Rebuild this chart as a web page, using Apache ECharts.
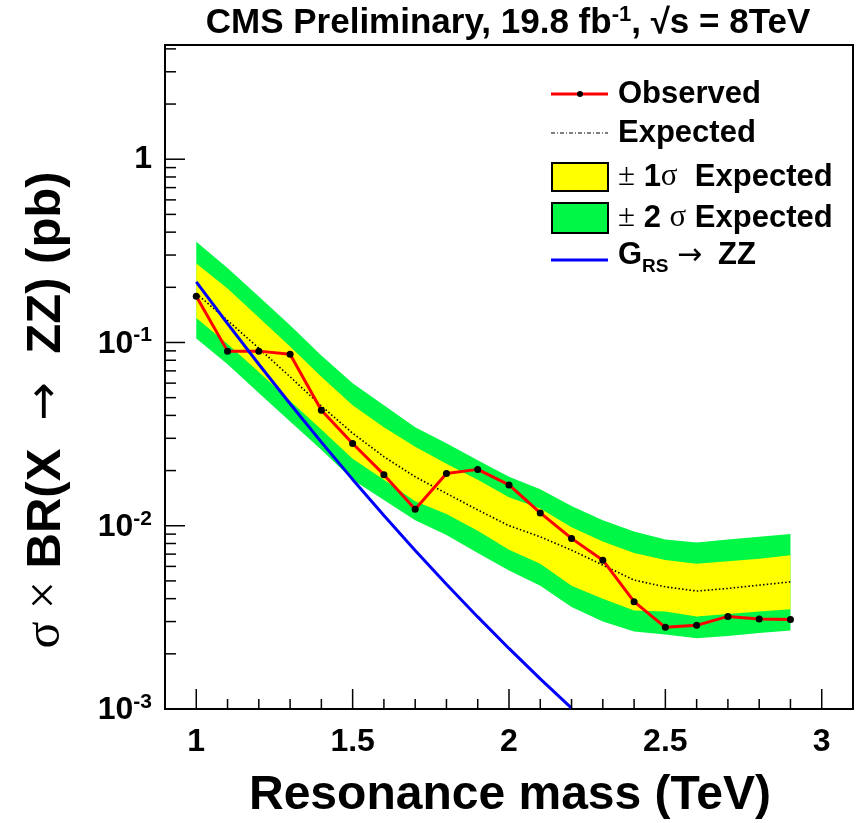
<!DOCTYPE html>
<html>
<head>
<meta charset="utf-8">
<script src="https://cdn.jsdelivr.net/npm/echarts@6/dist/echarts.min.js"></script>
<style>
html,body{margin:0;padding:0;background:#fff;}
#chart{width:858px;height:823px;}
</style>
</head>
<body>
<div id="chart"></div>
<script>
// ---- data ----
const mass       = [1.0, 1.1, 1.2, 1.3, 1.4, 1.5, 1.6, 1.7, 1.8, 1.9, 2.0, 2.1, 2.2, 2.3, 2.4, 2.5, 2.6, 2.7, 2.8, 2.9];
const observed   = [0.179, 0.0897, 0.0897, 0.0862, 0.0427, 0.0281, 0.0190, 0.0123, 0.0193, 0.0203, 0.0167, 0.01175, 0.00853, 0.00649, 0.00385, 0.00279, 0.00286, 0.00320, 0.00310, 0.00308];
const expected   = [0.185, 0.132, 0.093, 0.065, 0.045, 0.032, 0.0238, 0.0185, 0.0150, 0.0122, 0.0100, 0.0087, 0.00736, 0.0061, 0.00505, 0.00464, 0.00440, 0.00455, 0.00474, 0.00494];
const sigma1Up   = [0.270, 0.197, 0.137, 0.095, 0.065, 0.0455, 0.0345, 0.0270, 0.0218, 0.0178, 0.0143, 0.0124, 0.0098, 0.0082, 0.0071, 0.0065, 0.0062, 0.0064, 0.0066, 0.0069];
const sigma1Down = [0.136, 0.098, 0.069, 0.048, 0.0335, 0.0232, 0.0178, 0.0136, 0.0116, 0.0094, 0.0074, 0.0062, 0.0047, 0.0040, 0.00345, 0.0034, 0.0032, 0.0033, 0.0034, 0.0035];
const sigma2Up   = [0.354, 0.255, 0.178, 0.124, 0.085, 0.060, 0.0455, 0.0345, 0.0282, 0.0228, 0.0185, 0.0158, 0.0128, 0.0107, 0.0093, 0.0084, 0.0081, 0.0084, 0.0087, 0.0090];
const sigma2Down = [0.105, 0.076, 0.053, 0.037, 0.026, 0.0178, 0.0138, 0.0107, 0.0089, 0.0071, 0.0057, 0.0047, 0.0036, 0.0030, 0.00265, 0.00255, 0.00243, 0.0025, 0.0026, 0.00268];
const theoryMass = [1.0, 1.1, 1.2, 1.3, 1.4, 1.5, 1.6, 1.7, 1.8, 1.9, 2.0, 2.1, 2.2];
const theoryXsec = [0.2143, 0.1268, 0.0761, 0.0463, 0.0286, 0.0179, 0.01138, 0.00733, 0.00479, 0.00318, 0.00214, 0.00146, 0.00101];
const xTickMajor = [1, 1.5, 2, 2.5, 3];
const xTickMinor = [1.1, 1.2, 1.3, 1.4, 1.6, 1.7, 1.8, 1.9, 2.1, 2.2, 2.3, 2.4, 2.6, 2.7, 2.8, 2.9];
const yTickMajor = [0.001, 0.01, 0.1, 1];
const yTickMinor = [0.002, 0.003, 0.004, 0.005, 0.006, 0.007, 0.008, 0.009,
                    0.02, 0.03, 0.04, 0.05, 0.06, 0.07, 0.08, 0.09,
                    0.2, 0.3, 0.4, 0.5, 0.6, 0.7, 0.8, 0.9, 2, 3, 4];
const X_MIN = 0.9, X_MAX = 3.1, Y_MIN = 0.001, Y_MAX = 4.2;

const FONT = '"Liberation Sans", Arial, Helvetica, sans-serif';
const SYM = '"Liberation Serif", "DejaVu Serif", serif';
const ARROW = '"DejaVu Sans", sans-serif';

function bandSeries(up, down, color, z) {
  return {
    type: 'custom', coordinateSystem: 'cartesian2d', silent: true, z: z,
    data: [[mass[0], up[0]]],
    renderItem: function (params, api) {
      const pts = [];
      for (let i = 0; i < mass.length; i++) pts.push(api.coord([mass[i], up[i]]));
      for (let i = mass.length - 1; i >= 0; i--) pts.push(api.coord([mass[i], down[i]]));
      return { type: 'polygon', shape: { points: pts }, style: { fill: color, stroke: null } };
    }
  };
}

function tickSeries(values, axis, len) {
  return {
    type: 'custom', coordinateSystem: 'cartesian2d', silent: true, z: 20, clip: false,
    data: values.map(v => axis === 'x' ? [v, Y_MIN] : [X_MIN, v]),
    renderItem: function (params, api) {
      const p = api.coord([api.value(0), api.value(1)]);
      const q = axis === 'x' ? [p[0], p[1] - len] : [p[0] + len, p[1]];
      return { type: 'line', shape: { x1: p[0], y1: p[1], x2: q[0], y2: q[1] },
               style: { stroke: '#000', lineWidth: 1.5 } };
    }
  };
}

const chart = echarts.init(document.getElementById('chart'), null, { renderer: 'canvas' });

const option = {
  backgroundColor: '#ffffff',
  animation: false,
  grid: { left: 165, right: 5, top: 45, bottom: 114, show: true, borderColor: '#000', borderWidth: 2, backgroundColor: 'transparent' },
  xAxis: {
    type: 'value', min: X_MIN, max: X_MAX, interval: 0.1,
    axisLine: { show: false }, axisTick: { show: false }, splitLine: { show: false },
    axisLabel: {
      margin: 17, color: '#000', fontFamily: FONT, fontWeight: 'bold', fontSize: 32,
      formatter: function (v) {
        for (const t of xTickMajor) if (Math.abs(v - t) < 1e-6) return String(t);
        return '';
      }
    }
  },
  yAxis: {
    type: 'log', logBase: 10, min: Y_MIN, max: Y_MAX,
    axisLine: { show: false }, axisTick: { show: false }, splitLine: { show: false },
    axisLabel: {
      margin: 13, color: '#000',
      formatter: function (v) {
        const l = Math.log10(v), e = Math.round(l);
        if (Math.abs(l - e) > 1e-6) return '';
        if (e === 0) return '{a|1}';
        return '{a|10}{s|' + e + '}';
      },
      rich: {
        a: { fontFamily: FONT, fontWeight: 'bold', fontSize: 32, color: '#000', verticalAlign: 'bottom' },
        s: { fontFamily: FONT, fontWeight: 'bold', fontSize: 21, color: '#000', verticalAlign: 'bottom', padding: [0, 0, 14, 0] }
      }
    }
  },
  series: [
    bandSeries(sigma2Up, sigma2Down, '#00f745', 1),
    bandSeries(sigma1Up, sigma1Down, '#ffff00', 2),
    {
      type: 'line', name: 'Expected', z: 3, symbol: 'none', silent: true,
      data: mass.map((m, i) => [m, expected[i]]),
      lineStyle: { color: '#000', width: 1.6, type: [1.5, 2.2] }
    },
    {
      type: 'line', name: 'Observed', z: 4, silent: true,
      data: mass.map((m, i) => [m, observed[i]]),
      symbol: 'circle', symbolSize: 7,
      itemStyle: { color: '#000', borderWidth: 0 },
      lineStyle: { color: '#ff0000', width: 3 }
    },
    {
      type: 'line', name: 'G_RS', z: 5, symbol: 'none', silent: true,
      data: theoryMass.map((m, i) => [m, theoryXsec[i]]),
      lineStyle: { color: '#0000ff', width: 3 }
    },
    tickSeries(xTickMajor, 'x', 20),
    tickSeries(xTickMinor, 'x', 10),
    tickSeries(yTickMajor, 'y', 20),
    tickSeries(yTickMinor, 'y', 11)
  ],
  graphic: [
    // title
    { type: 'text', x: 508, y: 22, z: 100,
      style: { text: '{b|CMS Preliminary, 19.8 fb}{s|-1}{b|, √s = 8TeV}', align: 'center', verticalAlign: 'middle',
        rich: {
          b: { fontFamily: FONT, fontWeight: 'bold', fontSize: 35, fill: '#000', verticalAlign: 'bottom' },
          s: { fontFamily: FONT, fontWeight: 'bold', fontSize: 22, fill: '#000', verticalAlign: 'bottom', padding: [0, 0, 15, 0] }
        } } },
    // x-axis title
    { type: 'text', x: 510, y: 796, z: 100,
      style: { text: 'Resonance mass (TeV)', fontFamily: FONT, fontWeight: 'bold', fontSize: 48, fill: '#000', align: 'center', verticalAlign: 'middle' } },
    // y-axis title
    { type: 'text', x: 46, y: 410, rotation: Math.PI / 2, z: 100,
      style: { text: '{m|σ × }{b|BR(X }{a| → }{b| ZZ) (pb)}', align: 'center', verticalAlign: 'middle',
        rich: {
          b: { fontFamily: FONT, fontWeight: 'bold', fontSize: 49, fill: '#000' },
          m: { fontFamily: SYM, fontWeight: 'normal', fontSize: 50, fill: '#000' },
          a: { fontFamily: ARROW, fontWeight: 'normal', fontSize: 46, fill: '#000' }
        } } },
    // legend: Observed
    { type: 'line', z: 100, shape: { x1: 551, y1: 94, x2: 608, y2: 94 }, style: { stroke: '#ff0000', lineWidth: 3 } },
    { type: 'circle', z: 101, shape: { cx: 580, cy: 94, r: 3 }, style: { fill: '#000' } },
    { type: 'text', x: 618, y: 94, z: 100, style: { text: 'Observed', fontFamily: FONT, fontWeight: 'bold', fontSize: 31, fill: '#000', verticalAlign: 'middle' } },
    // legend: Expected
    { type: 'line', z: 100, shape: { x1: 551, y1: 133, x2: 608, y2: 133 }, style: { stroke: '#000', lineWidth: 1.2, lineDash: [4, 2, 1, 2] } },
    { type: 'text', x: 618, y: 133, z: 100, style: { text: 'Expected', fontFamily: FONT, fontWeight: 'bold', fontSize: 31, fill: '#000', verticalAlign: 'middle' } },
    // legend: 1 sigma
    { type: 'rect', z: 100, shape: { x: 552, y: 163, width: 56, height: 28 }, style: { fill: '#ffff00', stroke: '#000', lineWidth: 2 } },
    { type: 'text', x: 618, y: 177, z: 100, style: { text: '{m|±}{b| 1}{m|σ}{b|  Expected}', verticalAlign: 'middle',
        rich: { b: { fontFamily: FONT, fontWeight: 'bold', fontSize: 31, fill: '#000' }, m: { fontFamily: SYM, fontSize: 31, fill: '#000' } } } },
    // legend: 2 sigma
    { type: 'rect', z: 100, shape: { x: 552, y: 203, width: 56, height: 30 }, style: { fill: '#00f745', stroke: '#000', lineWidth: 2 } },
    { type: 'text', x: 618, y: 218, z: 100, style: { text: '{m|±}{b| 2 }{m|σ}{b| Expected}', verticalAlign: 'middle',
        rich: { b: { fontFamily: FONT, fontWeight: 'bold', fontSize: 31, fill: '#000' }, m: { fontFamily: SYM, fontSize: 31, fill: '#000' } } } },
    // legend: G_RS -> ZZ
    { type: 'line', z: 100, shape: { x1: 551, y1: 260, x2: 608, y2: 260 }, style: { stroke: '#0000ff', lineWidth: 3 } },
    { type: 'text', x: 618, y: 255, z: 100, style: { text: 'G', fontFamily: FONT, fontWeight: 'bold', fontSize: 31, fill: '#000', verticalAlign: 'middle' } },
    { type: 'text', x: 642, y: 267, z: 100, style: { text: 'RS', fontFamily: FONT, fontWeight: 'bold', fontSize: 19, fill: '#000', verticalAlign: 'middle' } },
    { type: 'text', x: 677, y: 256, z: 100, style: { text: '→', fontFamily: ARROW, fontSize: 30, fill: '#000', verticalAlign: 'middle' } },
    { type: 'text', x: 718, y: 255, z: 100, style: { text: 'ZZ', fontFamily: FONT, fontWeight: 'bold', fontSize: 31, fill: '#000', verticalAlign: 'middle' } }
  ]
};
chart.setOption(option);
</script>
</body>
</html>
